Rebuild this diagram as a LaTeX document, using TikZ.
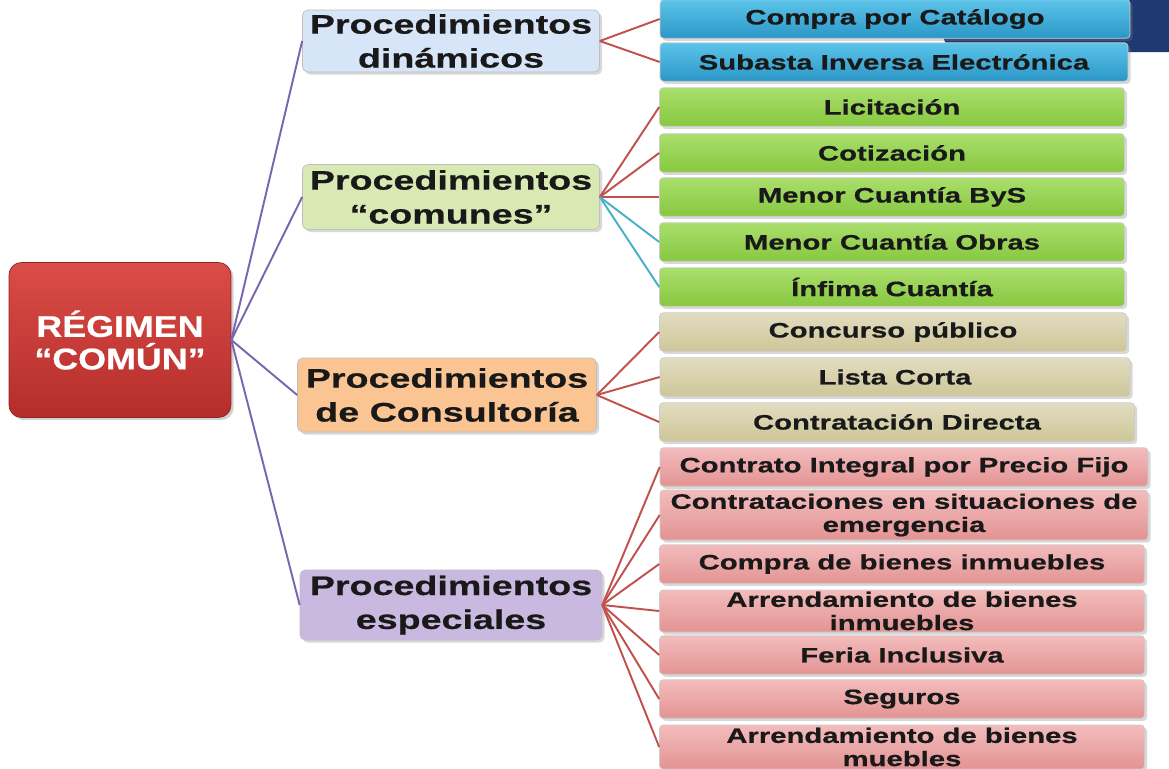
\documentclass[tikz,border=0pt]{standalone}
\usepackage{fontspec}
\newfontfamily\slidefont[FakeStretch=1.4, BoldFeatures={FakeBold=0.6}]{Liberation Sans}
\newfontfamily\headfont[FakeStretch=1.2, BoldFeatures={FakeBold=0.6}]{Liberation Sans}
\usetikzlibrary{shadows}

\definecolor{rootTop}{HTML}{DA4C47}
\definecolor{rootBot}{HTML}{B52D2A}
\definecolor{dynFill}{HTML}{D6E5F7}
\definecolor{comFill}{HTML}{D9E9B4}
\definecolor{consFill}{HTML}{FBC593}
\definecolor{espFill}{HTML}{C9B9E1}
\definecolor{blueTop}{HTML}{5CC4EA}
\definecolor{blueBot}{HTML}{2B96C6}
\definecolor{greenTop}{HTML}{A9DE6C}
\definecolor{greenBot}{HTML}{88C840}
\definecolor{tanTop}{HTML}{E2DDC0}
\definecolor{tanBot}{HTML}{CEC699}
\definecolor{pinkTop}{HTML}{F3BCBC}
\definecolor{pinkBot}{HTML}{E39393}
\definecolor{trunkViolet}{HTML}{7A66AE}
\definecolor{twigRed}{HTML}{C2504D}
\definecolor{twigTeal}{HTML}{4AAFC8}
\definecolor{slideNavy}{HTML}{1F3A72}

\begin{document}
\begin{tikzpicture}[
  x=0.02cm, y=-0.02cm,
  rootbox/.style={rectangle, draw=rootBot!80!black, top color=rootTop, bottom color=rootBot, rounded corners=7pt, minimum width=4.44cm, minimum height=3.1cm, text=white, align=center, font=\headfont\bfseries\fontsize{17}{18.5}\selectfont, drop shadow={opacity=0.35, shadow xshift=1.5pt, shadow yshift=-1.5pt}},
  midbox/.style={rectangle, draw=black!25, rounded corners=3pt, minimum width=5.94cm, inner sep=0pt, align=center, text=black!90, font=\slidefont\bfseries\fontsize{15.3}{19.3}\selectfont, drop shadow={opacity=0.3, shadow xshift=1.5pt, shadow yshift=-1.5pt}},
  leaf/.style={rectangle, draw=black!20, rounded corners=2pt, minimum height=0.77cm, inner xsep=2pt, inner ysep=0pt, align=center, text=black!90, font=\slidefont\bfseries\fontsize{11.9}{13.2}\selectfont, drop shadow={opacity=0.3, shadow xshift=1.5pt, shadow yshift=-1.5pt}},
  blueleaf/.style={leaf, top color=blueTop, bottom color=blueBot},
  greenleaf/.style={leaf, top color=greenTop, bottom color=greenBot},
  tanleaf/.style={leaf, top color=tanTop, bottom color=tanBot},
  pinkleaf/.style={leaf, top color=pinkTop, bottom color=pinkBot},
  trunk/.style={draw=trunkViolet, line width=1.1pt},
  twig/.style={draw=twigRed, line width=1.1pt},
  twigb/.style={draw=twigTeal, line width=1.1pt}
]

% slide background
\fill[white] (0,0) rectangle (1169,768);
\useasboundingbox (0,0) rectangle (1169,768);
\fill[slideNavy] (925,0) -- (1169,0) -- (1169,52) -- (950,52) -- cycle;

% Root
\node[rootbox] (root) at (120,340) {RÉGIMEN\\“COMÚN”};

% Procedimientos
\node[midbox, fill=dynFill, minimum height=1.24cm] (dyn) at (451,41) {Procedimientos\\dinámicos};
\node[midbox, fill=comFill, minimum height=1.3cm] (com) at (451,197) {Procedimientos\\“comunes”};
\node[midbox, fill=consFill, minimum width=5.98cm, minimum height=1.48cm] (cons) at (447,395) {Procedimientos\\de Consultoría};
\node[midbox, fill=espFill, minimum width=6.04cm, minimum height=1.4cm] (esp) at (451,605) {Procedimientos\\especiales};

% dinamicos
\node[blueleaf, minimum width=9.4cm] (cat) at (895,19) {Compra por Catálogo};
\node[blueleaf, minimum width=9.36cm] (sub) at (894,62) {Subasta Inversa Electrónica};

% comunes
\node[greenleaf, minimum width=9.3cm] (lic) at (892,107) {Licitación};
\node[greenleaf, minimum width=9.3cm] (cot) at (892,153) {Cotización};
\node[greenleaf, minimum width=9.3cm] (bys) at (892,197) {Menor Cuantía ByS};
\node[greenleaf, minimum width=9.3cm] (obr) at (892,242) {Menor Cuantía Obras};
\node[greenleaf, minimum width=9.3cm] (inf) at (892,287) {Ínfima Cuantía};

% consultoria
\node[tanleaf, minimum width=9.34cm] (conc) at (893,332) {Concurso público};
\node[tanleaf, minimum width=9.4cm] (lista) at (895,377) {Lista Corta};
\node[tanleaf, minimum width=9.5cm] (direc) at (897,422) {Contratación Directa};

% especiales
\node[pinkleaf, minimum width=9.76cm] (cip) at (904,467) {Contrato Integral por Precio Fijo};
\node[pinkleaf, minimum width=9.76cm, minimum height=1cm] (emer) at (904,515) {Contrataciones en situaciones de\\emergencia};
\node[pinkleaf, minimum width=9.7cm] (cbi) at (902,564) {Compra de bienes inmuebles};
\node[pinkleaf, minimum width=9.7cm, minimum height=0.84cm] (abi) at (902,611) {Arrendamiento de bienes\\inmuebles};
\node[pinkleaf, minimum width=9.7cm] (feria) at (902,655) {Feria Inclusiva};
\node[pinkleaf, minimum width=9.7cm] (seg) at (902,699) {Seguros};
\node[pinkleaf, minimum width=9.7cm, minimum height=0.88cm] (abm) at (902,747) {Arrendamiento de bienes\\muebles};

% ramas
\foreach \mid in {dyn,com,cons,esp}
  \draw[trunk] (root.east) -- (\mid.west);
\foreach \leafname in {cat,sub}
  \draw[twig] (dyn.east) -- (\leafname.west);
\foreach \leafname in {lic,cot,bys}
  \draw[twig] (com.east) -- (\leafname.west);
\foreach \leafname in {obr,inf}
  \draw[twigb] (com.east) -- (\leafname.west);
\foreach \leafname in {conc,lista,direc}
  \draw[twig] (cons.east) -- (\leafname.west);
\foreach \leafname in {cip,emer,cbi,abi,feria,seg,abm}
  \draw[twig] (esp.east) -- (\leafname.west);

\end{tikzpicture}
\end{document}
